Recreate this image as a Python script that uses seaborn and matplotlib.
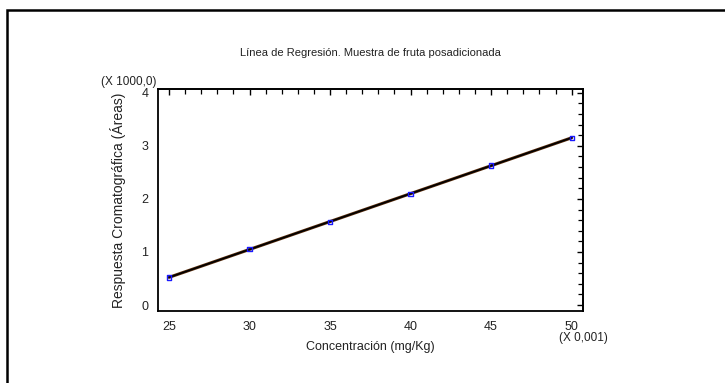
import numpy as np
import pandas as pd
import matplotlib
matplotlib.use("Agg")
import matplotlib.pyplot as plt
from matplotlib.ticker import MultipleLocator
from matplotlib.patches import Rectangle
import seaborn as sns

# Data (x in units of 0.001 mg/Kg, y in units of 1000 areas)
concentracion = [25, 30, 35, 40, 45, 50]
respuesta = [0.52, 1.05, 1.57, 2.10, 2.63, 3.15]

title = "Línea de Regresión. Muestra de fruta posadicionada"
xlabel = "Concentración (mg/Kg)"
ylabel = "Respuesta Cromatográfica (Áreas)"
xscale_note = "(X 0,001)"
yscale_note = "(X 1000,0)"

sns.set_theme(style="white")
fam = ["Liberation Sans", "DejaVu Sans"]
plt.rcParams["font.family"] = fam

df = pd.DataFrame({"x": concentracion, "y": respuesta})

fig = plt.figure(figsize=(7.25, 3.83), dpi=100)
ax = fig.add_axes([0.218, 0.188, 0.586, 0.580])

slope, intercept = np.polyfit(df["x"], df["y"], 1)
fit = pd.DataFrame({"x": [min(concentracion), max(concentracion)]})
fit["y"] = intercept + slope * fit["x"]
sns.lineplot(data=fit, x="x", y="y", ax=ax, color="#5a2d0c", lw=2.2, zorder=2)
sns.lineplot(data=fit, x="x", y="y", ax=ax, color="black", lw=1.2, zorder=3)
sns.scatterplot(data=df, x="x", y="y", ax=ax, marker="s", s=9,
                facecolor="none", edgecolor="#1a1aff", linewidth=1.0, zorder=4)

xlim = (24.32, 50.7)
ylim = (-0.113, 4.075)
ax.set_xlim(*xlim)
ax.set_ylim(*ylim)
for a in (ax.xaxis,):
    a.set_major_locator(MultipleLocator(5))
    a.set_minor_locator(MultipleLocator(1))
ax.yaxis.set_major_locator(MultipleLocator(1))
ax.yaxis.set_minor_locator(MultipleLocator(0.2))

for s in ax.spines.values():
    s.set_visible(True)
    s.set_color("black")
    s.set_linewidth(1.3)

ax.tick_params(axis="both", which="major", direction="inout", length=8, width=1.0,
               colors="black", labelsize=9, top=False, right=False, pad=3)
ax.tick_params(axis="both", which="minor", direction="in", length=3.5, width=0.9,
               colors="black", top=False, right=False)
for lab in ax.get_xticklabels() + ax.get_yticklabels():
    lab.set_color("#222222")

# top and right ticks pointing inward only
sx = ax.secondary_xaxis("top")
sx.xaxis.set_major_locator(MultipleLocator(5))
sx.xaxis.set_minor_locator(MultipleLocator(1))
sx.tick_params(which="major", direction="in", length=4, width=1.0, labeltop=False, colors="black")
sx.tick_params(which="minor", direction="in", length=3.5, width=0.9, colors="black")
sy = ax.secondary_yaxis("right")
sy.yaxis.set_major_locator(MultipleLocator(1))
sy.yaxis.set_minor_locator(MultipleLocator(0.2))
sy.tick_params(which="major", direction="in", length=4, width=1.0, labelright=False, colors="black")
sy.tick_params(which="minor", direction="in", length=3.5, width=0.9, colors="black")
for s in list(sx.spines.values()) + list(sy.spines.values()):
    s.set_linewidth(1.3)

ax.set_xlabel(xlabel, fontsize=9, color="#222222", labelpad=6)
ax.set_ylabel("")
fig.text(0.163, 0.478, ylabel, rotation=90, ha="center", va="center",
         fontsize=10, color="#222222")
fig.text(0.511, 0.862, title, ha="center", va="center", fontsize=8, color="#222222")
fig.text(0.178, 0.787, yscale_note, ha="center", va="center", fontsize=8.5, color="#222222")
fig.text(0.805, 0.118, xscale_note, ha="center", va="center", fontsize=8.5, color="#222222")

# outer frame
fig.patches.append(Rectangle((0.0095, -0.1), 1.2, 1.074, transform=fig.transFigure,
                             fill=False, edgecolor="black", linewidth=1.8))

fig.savefig("out.png", dpi=100)
